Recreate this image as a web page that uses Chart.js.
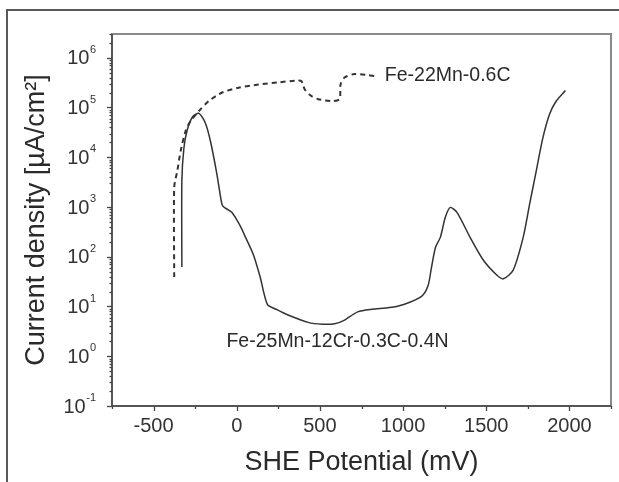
<!DOCTYPE html>
<html>
<head>
<meta charset="utf-8">
<script src="https://cdn.jsdelivr.net/npm/chart.js@4.4.1/dist/chart.umd.min.js"></script>
<style>
    html, body { margin: 0; padding: 0; background: #fff; }
    #wrap { width: 619px; height: 482px; position: relative; }
</style>
</head>
<body>
<div id="wrap"><canvas id="polarizationChart" width="619" height="482"></canvas></div>
<script>
// Fe-25Mn-12Cr-0.3C-0.4N (solid)
const crPotential = [-330, -330, -318, -299, -265, -227, -190, -158, -120, -90, -78, -30, 20, 53, 100, 140, 184, 237, 301, 429, 514, 589, 642, 727, 813, 918, 1004, 1111, 1150, 1170, 1195, 1224, 1254, 1284, 1324, 1403, 1483, 1563, 1603, 1662, 1722, 1761, 1801, 1841, 1881, 1921, 1976];
const crCurrent = [62, 3400, 15000, 34000, 65000, 76000, 50000, 21000, 4700, 1170, 1000, 780, 420, 245, 110, 40, 11, 8.8, 6.9, 4.8, 4.4, 4.5, 5.2, 7.8, 8.8, 9.5, 11, 16, 26, 59, 155, 245, 620, 980, 780, 245, 85, 43, 36, 54, 245, 1150, 5400, 25000, 74000, 135000, 220000];

// Fe-22Mn-0.6C (dashed)
const mnPotential = [-376, -376, -357, -337, -307, -277, -227, -168, -88, 11, 131, 250, 369, 389, 409, 449, 489, 568, 618, 624, 648, 708, 787, 827];
const mnCurrent = [39, 2500, 5400, 13500, 34000, 54000, 85000, 135000, 200000, 250000, 290000, 320000, 350000, 340000, 230000, 170000, 147000, 135000, 147000, 290000, 400000, 470000, 450000, 430000];

// axis ticks
const xTickValues = [-750, -500, -250, 0, 250, 500, 750, 1000, 1250, 1500, 1750, 2000, 2250];
const xLabelValues = [-500, 0, 500, 1000, 1500, 2000];
const yDecades = [-1, 0, 1, 2, 3, 4, 5, 6];

// curve labels, anchored in data units
const curveLabels = ['Fe-22Mn-0.6C', 'Fe-25Mn-12Cr-0.3C-0.4N'];
const curveLabelX = [890, -62];
const curveLabelY = [430000, 1.95];

function toPoints(xs, ys) {
    return xs.map((x, i) => ({ x: x, y: ys[i] }));
}

const frameAndTicks = {
    id: 'frameAndTicks',
    afterDraw(chart) {
        const ctx = chart.ctx;
        const area = chart.chartArea;
        const xScale = chart.scales.x;
        const yScale = chart.scales.y;

        ctx.save();

        // outer frame (top and left only)
        ctx.strokeStyle = '#5a5a5a';
        ctx.lineWidth = 2;
        ctx.beginPath();
        ctx.moveTo(7, 482);
        ctx.lineTo(7, 10);
        ctx.lineTo(619, 10);
        ctx.stroke();

        // plot box
        ctx.strokeStyle = '#8a8a8a';
        ctx.lineWidth = 2;
        ctx.strokeRect(area.left, area.top, area.right - area.left, area.bottom - area.top);
        ctx.strokeStyle = '#444';
        ctx.lineWidth = 1.5;
        ctx.beginPath();
        ctx.moveTo(area.left, area.top);
        ctx.lineTo(area.left, area.bottom);
        ctx.lineTo(area.right, area.bottom);
        ctx.stroke();

        // x ticks
        ctx.strokeStyle = '#444';
        ctx.lineWidth = 1.3;
        xTickValues.forEach((v) => {
            const px = Math.round(xScale.getPixelForValue(v)) + 0.5;
            const len = xLabelValues.includes(v) ? 5 : 3;
            ctx.beginPath();
            ctx.moveTo(px, area.bottom);
            ctx.lineTo(px, area.bottom + len);
            ctx.stroke();
        });

        // y ticks (decades + log minors)
        yDecades.forEach((k) => {
            for (let m = 1; m <= 9; m++) {
                const v = m * Math.pow(10, k);
                if (v > yScale.max) break;
                const py = Math.round(yScale.getPixelForValue(v)) + 0.5;
                const len = m === 1 ? 5 : 2.5;
                ctx.beginPath();
                ctx.moveTo(area.left, py);
                ctx.lineTo(area.left - len, py);
                ctx.stroke();
            }
        });

        // y tick labels as 10 with superscript exponent
        ctx.fillStyle = '#333';
        ctx.textBaseline = 'middle';
        yDecades.forEach((k) => {
            const py = yScale.getPixelForValue(Math.pow(10, k));
            const exp = k < 0 ? '-' + Math.abs(k) : String(k);
            ctx.font = '11px "Liberation Sans", Arial, sans-serif';
            const expW = ctx.measureText(exp).width;
            const right = 96;
            ctx.textAlign = 'left';
            ctx.fillText(exp, right - expW, py - 8);
            ctx.font = '20px "Liberation Sans", Arial, sans-serif';
            ctx.textAlign = 'right';
            ctx.fillText('10', right - expW - 0.5, py + 1);
        });

        // curve labels
        ctx.font = '19.5px "Liberation Sans", Arial, sans-serif';
        ctx.fillStyle = '#2a2a2a';
        ctx.textAlign = 'left';
        ctx.textBaseline = 'middle';
        curveLabels.forEach((text, i) => {
            ctx.fillText(text, xScale.getPixelForValue(curveLabelX[i]), yScale.getPixelForValue(curveLabelY[i]));
        });

        ctx.restore();
    }
};

const ctx = document.getElementById('polarizationChart').getContext('2d');

new Chart(ctx, {
    type: 'line',
    data: {
        datasets: [{
            label: curveLabels[1],
            data: toPoints(crPotential, crCurrent),
            borderColor: '#333',
            borderWidth: 1.5,
            pointRadius: 0,
            tension: 0.25,
            fill: false
        }, {
            label: curveLabels[0],
            data: toPoints(mnPotential, mnCurrent),
            borderColor: '#333',
            borderWidth: 2,
            borderDash: [5, 4],
            pointRadius: 0,
            tension: 0.25,
            fill: false
        }]
    },
    options: {
        responsive: false,
        animation: false,
        events: [],
        layout: {
            padding: { left: 0, top: 34, right: 4, bottom: 0 }
        },
        plugins: {
            legend: { display: false },
            tooltip: { enabled: false }
        },
        scales: {
            x: {
                type: 'linear',
                min: -750,
                max: 2250,
                afterBuildTicks: (scale) => {
                    scale.ticks = xTickValues.map((v) => ({ value: v }));
                },
                afterFit: (scale) => {
                    scale.height = 76;
                },
                grid: { display: false, drawTicks: false },
                border: { display: false },
                ticks: {
                    autoSkip: false,
                    maxRotation: 0,
                    padding: 8,
                    color: '#333',
                    font: { family: '"Liberation Sans", Arial, sans-serif', size: 20 },
                    callback: (value) => xLabelValues.includes(value) ? String(value) : ''
                },
                title: {
                    display: true,
                    text: 'SHE Potential (mV)',
                    color: '#2a2a2a',
                    font: { family: '"Liberation Sans", Arial, sans-serif', size: 27 },
                    padding: { top: 0, bottom: 3 }
                }
            },
            y: {
                type: 'logarithmic',
                min: 0.1,
                max: 3000000,
                afterFit: (scale) => {
                    scale.width = 112;
                },
                grid: { display: false, drawTicks: false },
                border: { display: false },
                ticks: { display: false },
                title: {
                    display: true,
                    text: 'Current density [µA/cm²]',
                    color: '#2a2a2a',
                    font: { family: '"Liberation Sans", Arial, sans-serif', size: 27 },
                    padding: { top: 20, bottom: 0 }
                }
            }
        }
    },
    plugins: [frameAndTicks]
});
</script>
</body>
</html>
